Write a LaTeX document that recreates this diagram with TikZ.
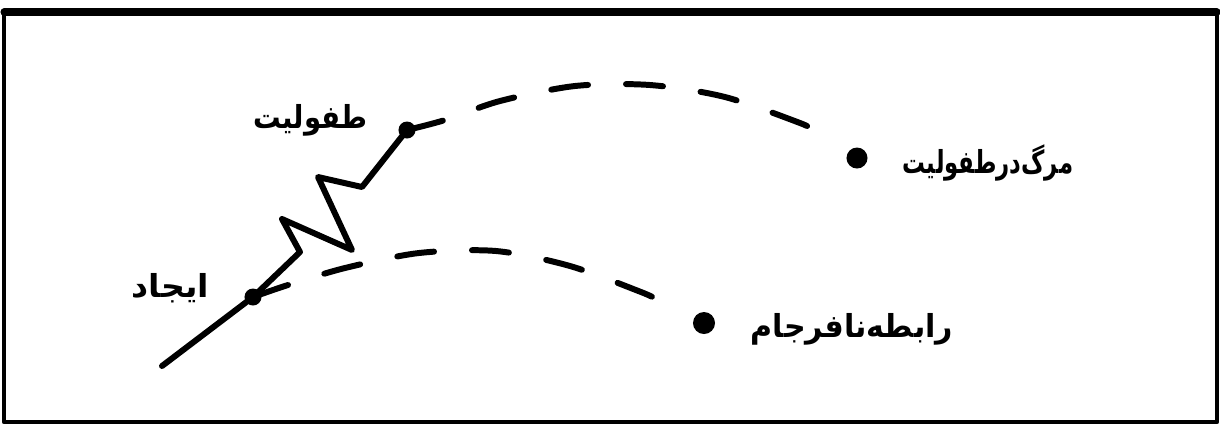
\documentclass[tikz,border=0pt]{standalone}
\usepackage{graphicx}
\usepackage{fontspec}
\newfontfamily\farsi[Script=Arabic]{DejaVu Sans}
\TeXXeTstate=1
\newcommand{\farsimatn}[2]{\scalebox{#1}[1]{\beginR #2\endR}}
\begin{document}
\begin{tikzpicture}[x=0.01cm, y=-0.01cm, line join=round, line cap=round, font=\farsi\bfseries\small]
	\tikzset{
		masir/.style={line width=1.7pt},
		naghs/.style={line width=1.7pt, dash pattern=on 0.37cm off 0.38cm},
		noghte/.style={circle, fill=black, inner sep=0pt, minimum size=#1},
		etiket/.style={inner sep=0pt},
	}
	\useasboundingbox (0,0) rectangle (1220,426);
	\draw[line width=1.2pt] (4,12) rectangle (1217,422);
	\draw[line width=2pt] (4,12) -- (1217,12);
	% noghte ha
	\node[noghte=0.17cm] (ijad) at (253,297) {};
	\node[noghte=0.17cm] (tafoliat) at (407,130) {};
	\node[noghte=0.21cm] (marg) at (857,158) {};
	\node[noghte=0.22cm] (rabete) at (704,323) {};
	\coordinate (shoru) at (162,366);
	% matn ha
	\node[etiket, anchor=east] (ijadtxt) at (210,288) {\farsimatn{1.05}{ایجاد}};
	\node[etiket, anchor=east] (tafoliattxt) at (368,120) {\farsimatn{0.87}{طفولیت}};
	\node[etiket, anchor=west] (margtxt) at (902,163) {\farsimatn{0.72}{مرگ‌درطفولیت}};
	\node[etiket, anchor=west] (rabetetxt) at (750,329) {\farsimatn{0.95}{رابطه‌نافرجام}};
	% khat asli ba shekastegi
	\draw[masir] (shoru) -- (ijad.center) -- (300,252) -- (282,219) -- (352,250) -- (318,177) -- (362,187) -- (tafoliat.center);
	% do masir naghs
	\draw[naghs] plot[smooth] coordinates {(407,130) (445,120) (500,101) (575,86) (650,85) (725,97) (800,123) (815,131)};
	\draw[naghs] plot[smooth] coordinates {(253,297) (288,285) (345,268) (419,253) (496,251) (570,266) (641,292) (658,300)};
\end{tikzpicture}
\end{document}
